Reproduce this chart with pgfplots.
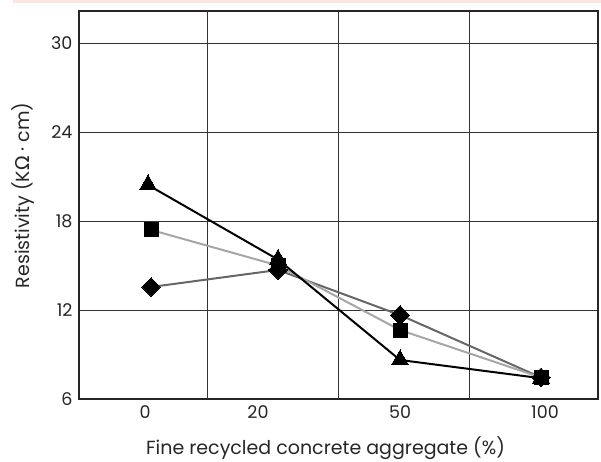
\documentclass[border=0pt]{standalone}
\usepackage{pgfplots}
\pgfplotsset{compat=1.18}
\usepackage{fontspec}
\setmainfont{Poppins}
\newfontfamily\gr{DejaVu Sans}
\definecolor{peach}{HTML}{FAE6DC}
\definecolor{lgray}{HTML}{A6A6A6}
\definecolor{dgray}{HTML}{666666}
\begin{document}
\begin{tikzpicture}[x=1pt,y=1pt]
\useasboundingbox (0,0) rectangle (601,462);
\fill[peach] (13,458.5) rectangle (601,462);
\begin{axis}[
  at={(79pt,63pt)}, anchor=south west,
  scale only axis, width=519pt, height=388pt,
  xmin=79, xmax=598, ymin=6, ymax=32.16,
  xtick={145,258,400,545}, xticklabels={0,20,50,100},
  ytick={6,12,18,24,30},
  extra x ticks={207,338,469}, extra x tick labels={},
  extra x tick style={grid=major, major tick length=0pt},
  ymajorgrids,
  major tick length=0pt,
  grid style={black!80, line width=0.8pt},
  axis line style={line width=1.2pt, black!85},
  tick label style={font=\fontsize{17.5}{17.5}\selectfont, text=black!85},
  /pgf/number format/assume math mode=true,
  xticklabel style={yshift=-3pt},
  yticklabel style={xshift=-3pt},
  xlabel={Fine recycled concrete aggregate (\%)},
  ylabel={Resistivity (K{\gr Ω} · cm)},
  label style={font=\fontsize{19}{19}\selectfont, text=black!85},
  xlabel style={at={(axis description cs:0.475,-0.144)}, anchor=base},
  ylabel style={at={(axis description cs:-0.108,0.525)}, anchor=center},
  clip=false,
]
\addplot[dgray, line width=2pt, mark=square*, mark size=6.7pt, mark options={rotate=45, fill=black, draw=black, line width=0pt}]
  coordinates {(151,13.55) (278,14.7) (400,11.66) (541,7.45)};
\addplot[lgray, line width=2pt, mark=square*, mark size=7pt, mark options={fill=black, draw=black, line width=0pt}]
  coordinates {(151,17.4) (278,15.0) (400,10.65) (541,7.45)};
\addplot[black, line width=2pt, mark=triangle*, mark size=10pt, mark options={fill=black, draw=black, line width=0pt}]
  coordinates {(148,20.43) (278,15.4) (400,8.63) (541,7.4)};
\end{axis}
\end{tikzpicture}
\end{document}
